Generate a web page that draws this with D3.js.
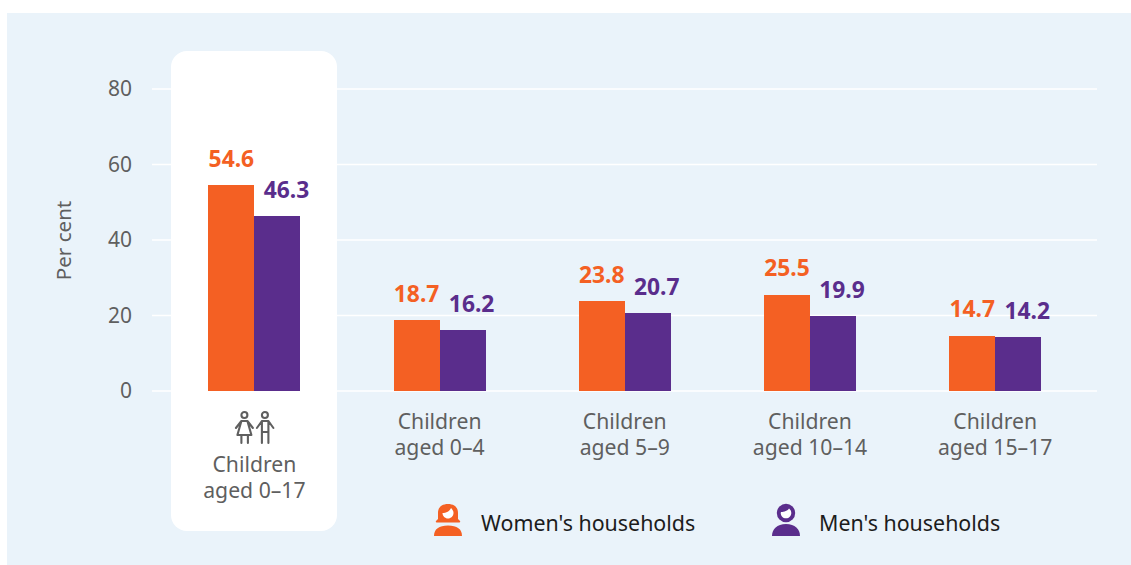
<!DOCTYPE html>
<html><head><meta charset="utf-8">
<script src="https://d3js.org/d3.v7.min.js"></script>
<style>
html,body{margin:0;padding:0;background:#fff}
svg{display:block}
text{font-family:"Noto Sans",sans-serif}
</style></head><body>
<svg id="c" width="1131" height="565"></svg>
<script>
const categories=[["Children","aged 0–17"],["Children","aged 0–4"],["Children","aged 5–9"],["Children","aged 10–14"],["Children","aged 15–17"]];
const women=[54.6,18.7,23.8,25.5,14.7];
const men=[46.3,16.2,20.7,19.9,14.2];
const yTicks=[0,20,40,60,80];
const seriesNames=["Women's households","Men's households"];
const colors=["#F46023","#5A2D8C"];
const ink="#5f5f5f";

const svg=d3.select("#c");
svg.append("rect").attr("x",7).attr("y",13).attr("width",1124).attr("height",552).attr("fill","#EAF3FA");

const y=d3.scaleLinear().domain([0,80]).range([391,89]);
const x=d3.scaleBand().domain(d3.range(categories.length)).range([161.8,1087.8]).paddingInner(0.503).paddingOuter(0.2515);
const sub=d3.scaleBand().domain([0,1]).range([0,x.bandwidth()]);

const axis=d3.axisLeft(y).tickValues(yTicks).tickSize(0).tickPadding(20);
const gy=svg.append("g").attr("transform","translate(152,0)").call(axis);
gy.select(".domain").remove();
gy.selectAll("text").attr("fill",ink).attr("font-size",21).style("font-family",'"Noto Sans",sans-serif');
svg.append("g").selectAll("line").data(yTicks).join("line")
  .attr("x1",152).attr("x2",1097).attr("y1",d=>y(d)).attr("y2",d=>y(d))
  .attr("stroke","#fff").attr("stroke-width",1.5);

svg.append("rect").attr("x",171).attr("y",51).attr("width",166).attr("height",480).attr("rx",16).attr("fill","#fff");
svg.append("text").attr("transform","translate(71,240.5) rotate(-90)").attr("text-anchor","middle")
  .attr("fill",ink).attr("font-size",20.6).text("Per cent");

const gs=svg.append("g").selectAll("g").data(categories).join("g")
  .attr("transform",(d,i)=>`translate(${x(i)},0)`);
const labelShift=[0,9];
[women,men].forEach((vals,s)=>{
  gs.append("rect").attr("x",sub(s)).attr("width",sub.bandwidth())
    .attr("y",(d,i)=>y(vals[i])).attr("height",(d,i)=>y(0)-y(vals[i])).attr("fill",colors[s]).attr("shape-rendering","crispEdges");
  gs.append("text").attr("x",sub(s)+sub.bandwidth()/2+labelShift[s]).attr("y",(d,i)=>y(vals[i])-26.5)
    .attr("dy","0.36em").attr("text-anchor","middle").attr("fill",colors[s])
    .attr("font-size",22.8).attr("font-weight",700).text((d,i)=>vals[i].toFixed(1));
});

gs.each(function(d,i){
  const t=d3.select(this).append("text").attr("text-anchor","middle").attr("fill",ink).attr("font-size",21.2)
    .attr("y",i===0?472:429);
  d.forEach((l,k)=>t.append("tspan").attr("x",x.bandwidth()/2).attr("dy",k?26:0).text(l));
});

const cx=x(0)+x.bandwidth()/2;
const ic=svg.append("g").attr("transform",`translate(${cx},411)`).attr("fill","none").attr("stroke",ink).attr("stroke-width",2.1).attr("stroke-linecap","round").attr("stroke-linejoin","round");
ic.append("circle").attr("cx",-10).attr("cy",4).attr("r",3);
ic.append("circle").attr("cx",10.5).attr("cy",4).attr("r",3);
ic.append("path").attr("d","M-18.5,17 L-13,10 H-7 L-1.5,17 M-13,10 L-17,24 H-3 L-7,10 M-13,24 V32 M-6.5,24 V32");
ic.append("path").attr("d","M2.5,17 L7.5,10 H14 L19,17 M7.5,10 V32 M14,10 V32 M7.5,21 H14");

const legendX=[448,786], legendTextX=[481,819];
seriesNames.forEach((n,s)=>{
  const g=svg.append("g").attr("transform",`translate(${legendX[s]},0)`);
  if(s===0){
    g.append("path").attr("fill",colors[0]).attr("d","M-14,536 C-14,529 -9,525.5 0,525.5 C9,525.5 14,529 14,536 Z");
    g.append("path").attr("fill",colors[0]).attr("d","M-10,519 L-10,513 C-10,507 -6,504 0,504 C6,504 10,507 10,513 L10,519 L12,521 C12.5,522 12,522.5 11,522.5 H-11 C-12,522.5 -12.5,522 -12,521 Z");
    g.append("path").attr("fill","#fff").attr("d","M-5.5,513 C-2,513 2,511 3,508 C5,510 5.5,511.5 5.5,513 C5.5,516 3,518.5 0,518.5 C-3,518.5 -5.5,516 -5.5,513 Z");
  } else {
    g.append("path").attr("fill",colors[1]).attr("d","M-14,536 C-14,529 -9,524 0,524 C9,524 14,529 14,536 Z");
    g.append("circle").attr("cx",0).attr("cy",513).attr("r",9.2).attr("fill",colors[1]);
    g.append("path").attr("fill","#fff").attr("d","M-5,512 C-2,512 2,510.5 3,508.5 C5,510 5.3,511.5 5.3,513 C5.3,516 3,518.3 0,518.3 C-3,518.3 -5.3,516 -5.3,513 Z");
  }
  svg.append("text").attr("x",legendTextX[s]).attr("y",531).attr("fill","#1c1c1c").attr("font-size",21.4).text(n);
});
</script></body></html>
